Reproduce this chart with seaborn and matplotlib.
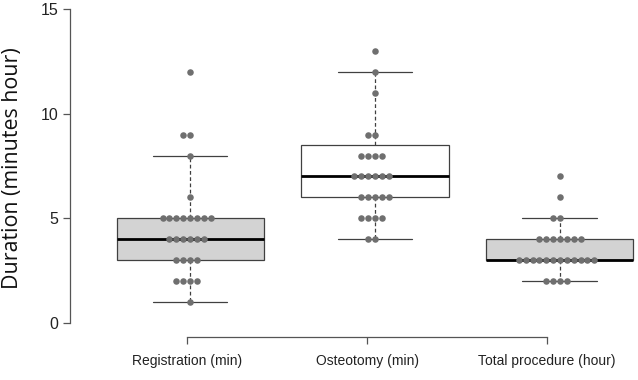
import numpy as np
import pandas as pd
import seaborn as sns
import matplotlib.pyplot as plt

categories = ['Registration (min)', 'Osteotomy (min)', 'Total procedure (hour)']

registration = [1, 2, 2, 2, 2, 3, 3, 3, 3, 4, 4, 4, 4, 4, 4,
                5, 5, 5, 5, 5, 5, 5, 5, 6, 8, 9, 9, 12]
osteotomy = [4, 4, 5, 5, 5, 5, 6, 6, 6, 6, 6, 7, 7, 7, 7, 7, 7,
             8, 8, 8, 8, 9, 9, 11, 12, 13]
total_procedure = [2, 2, 2, 2, 3, 3, 3, 3, 3, 3, 3, 3, 3, 3, 3, 3,
                   4, 4, 4, 4, 4, 4, 4, 5, 5, 6, 7]

# box statistics (R style hinges)
box_q1 = [3, 6, 3]
box_med = [4, 7, 3]
box_q3 = [5, 8.5, 4]
box_lo = [1, 4, 2]
box_hi = [8, 12, 5]
box_fill = ['#d3d3d3', 'white', '#d3d3d3']

df = pd.DataFrame({
    'group': [categories[0]] * len(registration) + [categories[1]] * len(osteotomy)
             + [categories[2]] * len(total_procedure),
    'value': registration + osteotomy + total_procedure,
})

sns.set_style('ticks')
plt.rcParams['font.family'] = ['Liberation Sans', 'DejaVu Sans']

fig = plt.figure(figsize=(6.38, 3.8), dpi=100)
ax = fig.add_axes([70 / 638, 57 / 380, 568 / 638, 314 / 380])

stats = [dict(med=m, q1=a, q3=b, whislo=lo, whishi=hi, fliers=[])
         for m, a, b, lo, hi in zip(box_med, box_q1, box_q3, box_lo, box_hi)]
bp = ax.bxp(stats, positions=[0, 1, 2], widths=0.795, capwidths=0.405,
            patch_artist=True, showfliers=False,
            boxprops=dict(edgecolor='#404040', linewidth=0.9),
            medianprops=dict(color='black', linewidth=2.0),
            whiskerprops=dict(color='#404040', linewidth=0.9, linestyle=(0, (3, 2))),
            capprops=dict(color='#404040', linewidth=0.9))
for patch, col in zip(bp['boxes'], box_fill):
    patch.set_facecolor(col)
    patch.set_zorder(1)

sns.swarmplot(data=df, x='group', y='value', order=categories, ax=ax,
              color='#6f6f6f', size=4.7, linewidth=0, zorder=4)

ax.set_xlim(-0.649, 2.422)
ax.set_ylim(0, 15)
# the axis of the original is drawn on a slightly narrower scale than the boxes
tick_pos = [-0.016, 0.957, 1.93]
ax.set_xticks(tick_pos)
ax.set_xticklabels(categories, fontsize=11)
ax.set_yticks([0, 5, 10, 15])
ax.set_yticklabels(['0', '5', '10', '15'], fontsize=11.5)
ax.set_xlabel('')
ax.set_ylabel('')
fig.text(13 / 638, (380 - 168) / 380, 'Duration (minutes hour)', rotation=90,
         ha='center', va='center', fontsize=15.4, family='Open Sans', color='#111111')

sns.despine(ax=ax)
ax.spines['bottom'].set_position(('outward', 10))
ax.spines['bottom'].set_bounds(tick_pos[0], tick_pos[-1])
ax.spines['left'].set_bounds(0, 15)
for s in ['left', 'bottom']:
    ax.spines[s].set_color('#555555')
    ax.spines[s].set_linewidth(0.9)
ax.tick_params(axis='both', colors='#555555', length=5, width=0.9, labelcolor='#222222')
ax.tick_params(axis='x', pad=7)
ax.tick_params(axis='y', pad=3.5)

plt.savefig('out.png', dpi=100)
